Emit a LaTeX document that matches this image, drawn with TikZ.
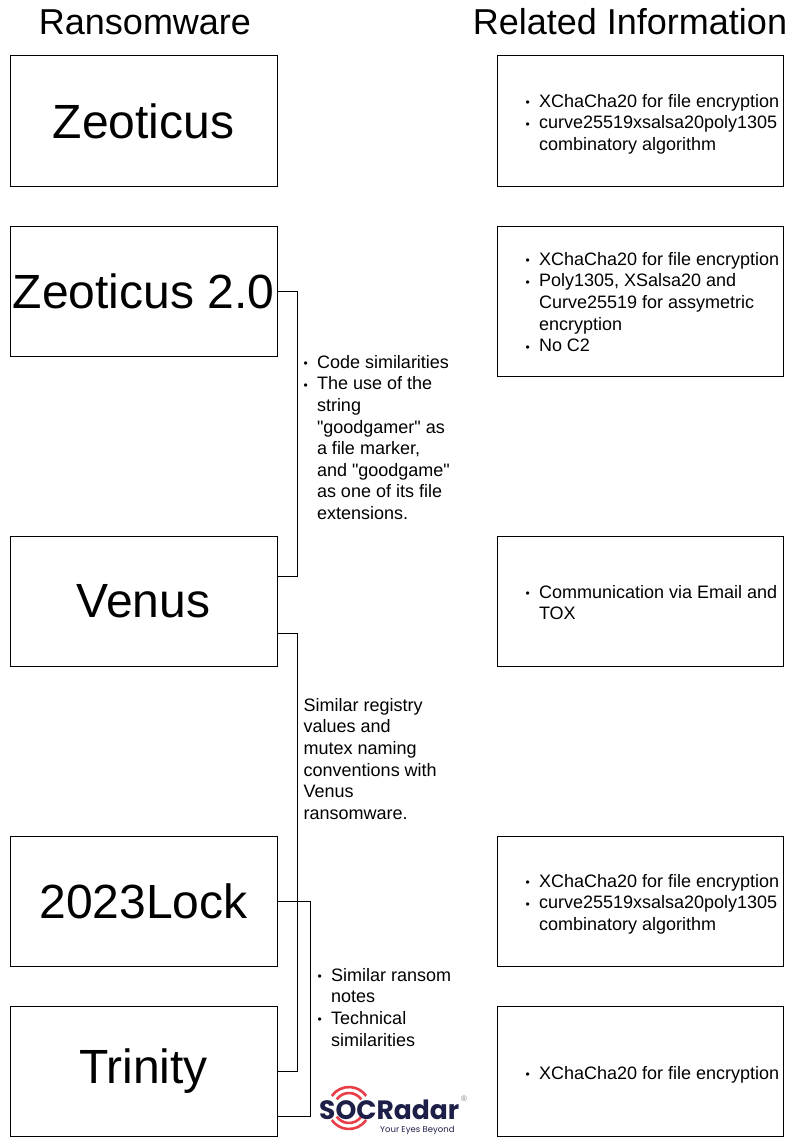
\documentclass[tikz,border=0pt]{standalone}
\usepackage{fontspec}
\usepackage{graphicx}
\setmainfont{Liberation Sans}[Ligatures=TeXOff]
\newfontfamily\popfont{Poppins}
\definecolor{navy}{RGB}{30,31,72}
\definecolor{radarred}{RGB}{232,62,72}
\newcommand\bul{\makebox[13.5pt][l]{\fontsize{12}{12}\selectfont\raisebox{0.6pt}{•}}}
\newcommand\ind{\hspace*{13.5pt}}
\newcommand\fl{\rule{0pt}{14pt}}
\begin{document}
\begin{tikzpicture}[x=1pt,y=-1pt,
  title/.style={anchor=base,inner sep=0,font=\fontsize{36}{40}\selectfont},
  ransom/.style={draw,line width=1pt,minimum width=267pt,minimum height=130pt,inner sep=0,font=\fontsize{48}{56}\selectfont},
  info/.style={draw,line width=1pt,minimum width=286pt,minimum height=130pt,inner sep=0},
  txt/.style={anchor=north west,align=left,inner sep=0,font=\fontsize{18}{21.6}\selectfont},
  conn/.style={line width=1pt}]
\useasboundingbox (0,0) rectangle (790,1137);
% titles
\node[title] (t1) at (145,35) {Ransomware};
\node[title] (t2) at (630,35) {Related Information};
% ransomware boxes
\node[ransom] (zeo) at (143.5,121) {Zeoticus};
\node[ransom] (zeo2) at (143.5,291) {Zeoticus 2.0};
\node[ransom] (venus) at (143.5,601) {Venus};
\node[ransom] (lock) at (143.5,901) {2023Lock};
\node[ransom] (trin) at (143.5,1071) {Trinity};
% info boxes
\node[info] (i1) at (640,121) {};
\node[info,minimum height=150pt] (i2) at (640,301) {};
\node[info] (i3) at (640,601) {};
\node[info] (i4) at (640,901) {};
\node[info] (i5) at (640,1071) {};
% info texts
\node[txt] (x1) at (525.3,93) {\fl\bul XChaCha20 for file encryption\\ \bul curve25519xsalsa20poly1305\\ \ind combinatory algorithm};
\node[txt] (x2) at (525.3,251) {\fl\bul XChaCha20 for file encryption\\ \bul Poly1305, XSalsa20 and\\ \ind Curve25519 for assymetric\\ \ind encryption\\ \bul No C2};
\node[txt] (x3) at (525.3,584) {\fl\bul Communication via Email and\\ \ind TOX};
\node[txt] (x4) at (525.3,873) {\fl\bul XChaCha20 for file encryption\\ \bul curve25519xsalsa20poly1305\\ \ind combinatory algorithm};
\node[txt] (x5) at (525.3,1065) {\fl\bul XChaCha20 for file encryption};
% connectors
\draw[conn] (zeo2.east) -- ++(20,0) |- ([yshift=25pt]venus.east);
\draw[conn] ([yshift=-32pt]venus.east) -- ++(20,0) |- (trin.east);
\draw[conn] (lock.east) -- ++(33,0) |- ([yshift=-45pt]trin.east);
% connector labels
\node[txt] (m1) at (303.3,354) {\fl\bul Code similarities\\ \bul The use of the\\ \ind string\\ \ind "goodgamer" as\\ \ind a file marker,\\ \ind and "goodgame"\\ \ind as one of its file\\ \ind extensions.};
\node[txt] (m2) at (303.5,697) {\fl Similar registry\\ values and\\ mutex naming\\ conventions with\\ Venus\\ ransomware.};
\node[txt] (m3) at (317.5,967) {\fl\bul Similar ransom\\ \ind notes\\ \bul Technical\\ \ind similarities};
% logo
\coordinate (oc) at (349,1108);
\foreach \r in {15,21}{
  \draw[radarred,line width=2.6pt] (oc) ++(215:\r) arc[start angle=215,end angle=325,radius=\r];
  \draw[radarred,line width=2.6pt] (oc) ++(35:\r) arc[start angle=35,end angle=145,radius=\r];
}
\node[anchor=base west,inner sep=0,text=navy] (logo) at (319,1119) {\resizebox{140pt}{!}{\popfont\bfseries SOCRadar}};
\node[anchor=base west,inner sep=0,text=navy,font=\popfont\fontsize{8.5}{10}\selectfont] (tag) at (380,1132) {Your Eyes Beyond};
\node[inner sep=0,text=gray,font=\fontsize{8}{8}\selectfont] (reg) at (464,1099) {®};
\end{tikzpicture}
\end{document}
